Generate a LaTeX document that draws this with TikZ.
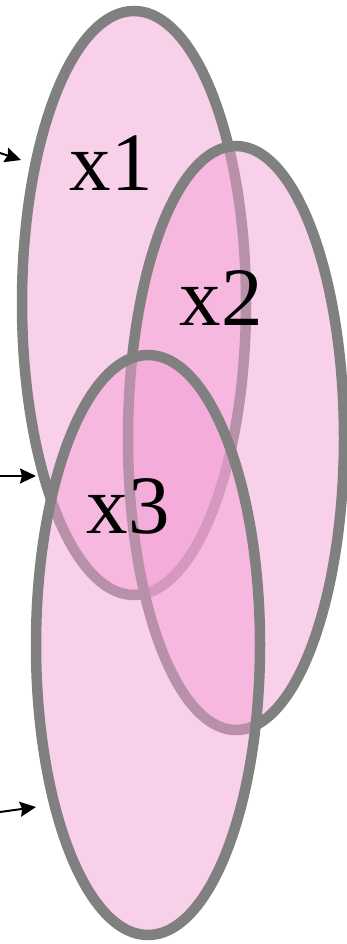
\documentclass[tikz,border=0pt]{standalone}
\usepackage{fontspec}
\setmainfont{Liberation Serif}
\usetikzlibrary{arrows.meta}
\definecolor{setpink}{HTML}{F3A1D5}
\definecolor{setgray}{HTML}{808080}
\tikzset{
  setell/.style={draw=setgray, line width=10.5pt, fill=setpink, fill opacity=0.5, draw opacity=1},
  setlabel/.style={anchor=base, inner sep=0pt, font=\fontsize{83}{99}\selectfont},
  pointer/.style={line width=2pt, -{Stealth[length=16pt,width=15pt,inset=2pt]}}
}
\begin{document}
\begin{tikzpicture}[x=1pt,y=-1pt]
\useasboundingbox (0,0) rectangle (346,944);
\draw[setell] (134,303) ellipse [x radius=112pt, y radius=292pt];
\draw[setell] (236,438) ellipse [x radius=108pt, y radius=292pt];
\draw[setell] (148,645) ellipse [x radius=112pt, y radius=290pt];
\node[setlabel] (x1) at (111,190) {x1};
\node[setlabel] (x2) at (221,325) {x2};
\node[setlabel] (x3) at (128,533) {x3};
\coordinate (s1) at (0,153);
\coordinate (t1) at (21,160);
\coordinate (s2) at (0,476);
\coordinate (t2) at (36,476);
\coordinate (s3) at (0,812);
\coordinate (t3) at (36,807);
\draw[pointer] (s1) -- (t1);
\draw[pointer] (s2) -- (t2);
\draw[pointer] (s3) -- (t3);
\end{tikzpicture}
\end{document}
